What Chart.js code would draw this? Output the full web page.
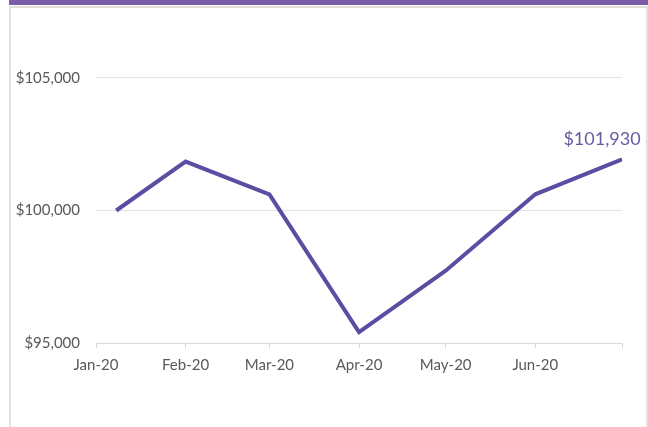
<!DOCTYPE html>
<html>
<head>
<meta charset="utf-8">
<script src="https://cdn.jsdelivr.net/npm/chart.js@4"></script>
<style>
  html, body { margin: 0; padding: 0; background: #fff; }
  #wrap { position: relative; width: 648px; height: 427px; overflow: hidden; }
  #topbar { position: absolute; left: 9px; top: 0; width: 639px; height: 5px; background: #7a5ca8; }
  #frame { position: absolute; left: 9px; top: 6px; width: 639px; height: 430px; border: 2px solid #e4e1dd; box-sizing: border-box; }
  #c { position: absolute; left: 0; top: 0; }
</style>
</head>
<body>
<div id="wrap">
  <div id="topbar"></div>
  <div id="frame"></div>
  <canvas id="c" width="648" height="427"></canvas>
</div>
<script>
// dates of each point and the portfolio value on that date
const pointDates = ["2020-01-08", "2020-02-01", "2020-03-01", "2020-04-01", "2020-05-01", "2020-06-01", "2020-07-01"];
const values = [100000, 101845, 100610, 95410, 97730, 100610, 101930];

// month ticks along the x axis
const tickDates = ["2020-01-01", "2020-02-01", "2020-03-01", "2020-04-01", "2020-05-01", "2020-06-01", "2020-07-01"];
const tickLabels = ["Jan-20", "Feb-20", "Mar-20", "Apr-20", "May-20", "Jun-20", ""];

const yTicks = [95000, 100000, 105000];

const DAY = 86400000;
const start = Date.parse("2020-01-01");
const toDay = (d) => (Date.parse(d) - start) / DAY;

const xTickDays = tickDates.map(toDay);
const points = pointDates.map((d, i) => ({ x: toDay(d), y: values[i] }));

const money = (v) => "$" + v.toLocaleString("en-US");

const lastLabel = {
  id: "lastLabel",
  afterDatasetsDraw(chart) {
    const meta = chart.getDatasetMeta(0);
    const pt = meta.data[meta.data.length - 1];
    const ctx = chart.ctx;
    ctx.save();
    ctx.font = "18px Lato";
    ctx.fillStyle = "#635ca3";
    ctx.textAlign = "center";
    ctx.textBaseline = "bottom";
    ctx.fillText(money(values[values.length - 1]), pt.x - 20, pt.y - 11);
    ctx.restore();
  },
};

new Chart(document.getElementById("c"), {
  type: "line",
  data: {
    datasets: [
      {
        data: points,
        borderColor: "#5a4ea2",
        borderWidth: 4,
        pointRadius: 0,
        tension: 0,
      },
    ],
  },
  options: {
    responsive: false,
    animation: false,
    layout: { padding: { top: 24, right: 26, left: 0, bottom: 0 } },
    plugins: { legend: { display: false }, tooltip: { enabled: false } },
    scales: {
      x: {
        type: "linear",
        min: xTickDays[0],
        max: xTickDays[xTickDays.length - 1],
        afterBuildTicks: (axis) => {
          axis.ticks = xTickDays.map((v) => ({ value: v }));
        },
        afterFit: (axis) => {
          axis.height = 84;
        },
        grid: { display: true, drawOnChartArea: false, color: "#d9d9d9", tickLength: 5 },
        border: { color: "#d9d9d9", width: 1 },
        ticks: {
          autoSkip: false,
          maxRotation: 0,
          padding: 8,
          color: "#595959",
          font: { family: "Lato", size: 15 },
          callback: (v, i) => tickLabels[i],
        },
      },
      y: {
        min: 95000,
        max: 107000,
        afterBuildTicks: (axis) => {
          axis.ticks = yTicks.map((v) => ({ value: v }));
        },
        afterFit: (axis) => {
          axis.width = 96;
        },
        grid: { color: (c) => (c.tick.value === 95000 ? "rgba(0,0,0,0)" : "#e2e2e2"), drawTicks: false },
        border: { display: false },
        ticks: {
          padding: 16,
          color: "#595959",
          font: { family: "Lato", size: 15 },
          callback: (v) => money(v),
        },
      },
    },
  },
  plugins: [lastLabel],
});
</script>
</body>
</html>
